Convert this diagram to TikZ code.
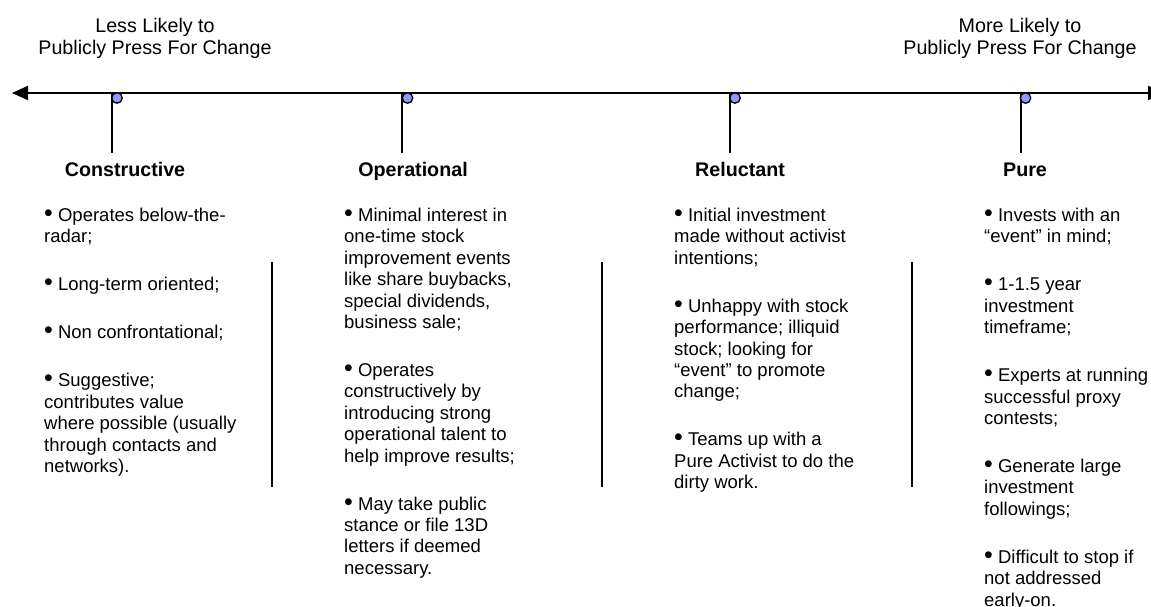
\documentclass[tikz,border=0pt]{standalone}
\usepackage{fontspec}
\setmainfont{Liberation Sans}
\usetikzlibrary{arrows.meta}
\definecolor{dotblue}{RGB}{150,150,255}
\newcommand\bul{{\fontsize{25}{21.4}\selectfont •}}
\begin{document}
\begin{tikzpicture}[x=1pt,y=-1pt,
  body/.style={anchor=base west, align=left, inner sep=0pt, font=\fontsize{18.5}{21.4}\selectfont},
  head/.style={anchor=base, inner sep=0pt, font=\bfseries\fontsize{19.7}{22}\selectfont},
  toplabel/.style={anchor=base, align=center, inner sep=0pt, font=\fontsize{19.7}{22}\selectfont},
  axis/.style={line width=2pt, {Triangle[length=16pt,width=14pt]}-{Triangle[length=16pt,width=14pt]}},
  stem/.style={line width=1.6pt},
  sep/.style={line width=1.8pt},
  dot/.style={circle, draw, line width=1.3pt, fill=dotblue, minimum size=10.5pt, inner sep=0pt}]
\useasboundingbox (0,0) rectangle (1151,607);
\clip (0,0) rectangle (1151,607);

% top labels (anchored at the baseline of their last line)
\node[toplabel] (less) at (155,55) {Less Likely to\\Publicly Press For Change};
\node[toplabel] (more) at (1020,55) {More Likely to\\Publicly Press For Change};

% axis
\coordinate (L) at (12,93);
\coordinate (R) at (1164,93);
\draw[axis] (L) -- (R);

% stems
\coordinate (a1) at (112,93);  \coordinate (b1) at (112,153);
\coordinate (a2) at (402,93);  \coordinate (b2) at (402,153);
\coordinate (a3) at (730,93);  \coordinate (b3) at (730,153);
\coordinate (a4) at (1021,93); \coordinate (b4) at (1021,153);
\draw[stem] (a1) -- (b1);
\draw[stem] (a2) -- (b2);
\draw[stem] (a3) -- (b3);
\draw[stem] (a4) -- (b4);
\node[dot] (d1) at (117,98) {};
\node[dot] (d2) at (407.5,98) {};
\node[dot] (d3) at (735,98) {};
\node[dot] (d4) at (1025.5,98) {};

% headers
\node[head] (h1) at (125,176) {Constructive};
\node[head] (h2) at (413,176) {Operational};
\node[head] (h3) at (740,176) {Reluctant};
\node[head] (h4) at (1025,176) {Pure};

% separators
\coordinate (s1t) at (272,262); \coordinate (s1b) at (272,487);
\coordinate (s2t) at (602,262); \coordinate (s2b) at (602,487);
\coordinate (s3t) at (912,262); \coordinate (s3b) at (912,487);
\draw[sep] (s1t) -- (s1b);
\draw[sep] (s2t) -- (s2b);
\draw[sep] (s3t) -- (s3b);

% columns (anchored at the baseline of their last line)
\node[body] (c1) at (44,472.5) {\bul{} Operates below-the-\\radar;\\[26.6pt]
\bul{} Long-term oriented;\\[26.6pt]
\bul{} Non confrontational;\\[26.6pt]
\bul{} Suggestive;\\contributes value\\where possible (usually\\through contacts and\\networks).};

\node[body] (c2) at (344,574.3) {\bul{} Minimal interest in\\one-time stock\\improvement events\\like share buybacks,\\special dividends,\\business sale;\\[26.6pt]
\bul{} Operates\\constructively by\\introducing strong\\operational talent to\\help improve results;\\[26.6pt]
\bul{} May take public\\stance or file 13D\\letters if deemed\\necessary.};

\node[body] (c3) at (674,488.7) {\bul{} Initial investment\\made without activist\\intentions;\\[26.6pt]
\bul{} Unhappy with stock\\performance; illiquid\\stock; looking for\\“event” to promote\\change;\\[26.6pt]
\bul{} Teams up with a\\Pure Activist to do the\\dirty work.};

\node[body] (c4) at (984,606.1) {\bul{} Invests with an\\“event” in mind;\\[26.6pt]
\bul{} 1-1.5 year\\investment\\timeframe;\\[26.6pt]
\bul{} Experts at running\\successful proxy\\contests;\\[26.6pt]
\bul{} Generate large\\investment\\followings;\\[26.6pt]
\bul{} Difficult to stop if\\not addressed\\early-on.};
\end{tikzpicture}
\end{document}
